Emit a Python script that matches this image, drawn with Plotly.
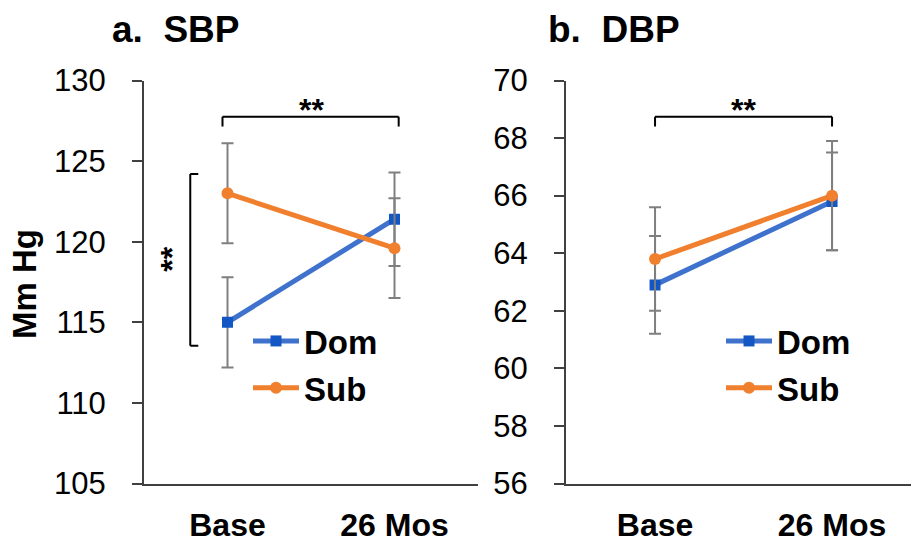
import plotly.graph_objects as go

# ---- data ----
categories = ["Base", "26 Mos"]
sbp_dom = [115.0, 121.4]
sbp_dom_se = [2.8, 2.9]
sbp_sub = [123.0, 119.6]
sbp_sub_se = [3.1, 3.1]
dbp_dom = [62.9, 65.8]
dbp_dom_se = [1.7, 1.7]
dbp_sub = [63.8, 66.0]
dbp_sub_se = [1.8, 1.9]
series_names = ["Dom", "Sub"]
sbp_ticks = [105, 110, 115, 120, 125, 130]
dbp_ticks = [56, 58, 60, 62, 64, 66, 68, 70]

W, H = 911, 543
FONT = "Liberation Sans, Arial, sans-serif"
BLUE_LINE = "#3F72CC"
BLUE_MK = "#1257C4"
ORANGE = "#F07F2E"
ERR = "#7F7F7F"
AX = "#404040"

def px_x(p):
    return p / W

def px_y(p):
    return (H - p) / H

fig = go.Figure()

def add_series(x, y, se, name, xa, ya, leg, grp, line_c, mk_c, symbol, size):
    fig.add_trace(go.Scatter(
        x=x, y=y, name=name, mode="lines+markers",
        xaxis=xa, yaxis=ya, legend=leg, legendgroup=grp,
        line=dict(color=line_c, width=5),
        marker=dict(color=mk_c, symbol=symbol, size=size),
        error_y=dict(type="data", array=se, visible=True, color=ERR,
                     thickness=2, width=6),
    ))

add_series(categories, sbp_dom, sbp_dom_se, series_names[0], "x", "y", "legend", "a_dom", BLUE_LINE, BLUE_MK, "square", 11)
add_series(categories, sbp_sub, sbp_sub_se, series_names[1], "x", "y", "legend", "a_sub", ORANGE, ORANGE, "circle", 12)
add_series(categories, dbp_dom, dbp_dom_se, series_names[0], "x2", "y2", "legend2", "b_dom", BLUE_LINE, BLUE_MK, "square", 11)
add_series(categories, dbp_sub, dbp_sub_se, series_names[1], "x2", "y2", "legend2", "b_sub", ORANGE, ORANGE, "circle", 12)

ydom = [px_y(483.5), px_y(80.5)]
xaxis_common = dict(
    type="category", showline=True, linecolor=AX, linewidth=2,
    ticks="", showgrid=False, zeroline=False, automargin=False,
    tickfont=dict(family=FONT, size=32, color="black", weight="bold"),
    ticklabelstandoff=12,
)
yaxis_common = dict(
    showline=True, linecolor=AX, linewidth=2, ticks="outside",
    ticklen=10, tickwidth=2, tickcolor=AX, showgrid=False, zeroline=False,
    automargin=False,
    tickfont=dict(family=FONT, size=31, color="black"),
    ticklabelstandoff=20,
)

legend_common = dict(
    font=dict(family=FONT, size=33, color="black", weight="bold"),
    bgcolor="rgba(0,0,0,0)", borderwidth=0, itemwidth=46,
    xanchor="left", yanchor="top", tracegroupgap=1, itemclick=False,
)

fig.update_layout(
    width=W, height=H, margin=dict(l=0, r=0, t=0, b=0, autoexpand=False),
    paper_bgcolor="white", plot_bgcolor="white",
    xaxis=dict(domain=[px_x(144), px_x(478)], range=[-0.5, 1.5], anchor="y", **xaxis_common),
    yaxis=dict(domain=ydom, range=[105, 130], tickvals=sbp_ticks, anchor="x", **yaxis_common),
    xaxis2=dict(domain=[px_x(566), 1.0], range=[-0.503, 1.446], anchor="y2", **xaxis_common),
    yaxis2=dict(domain=ydom, range=[56, 70], tickvals=dbp_ticks, anchor="x2", **yaxis_common),
    legend=dict(x=px_x(248), y=px_y(313), **legend_common),
    legend2=dict(x=px_x(721), y=px_y(313), **legend_common),
    showlegend=True,
)

# brackets (significance markers)
def line(x0, y0, x1, y1, xr, yr):
    fig.add_shape(type="line", x0=x0, y0=y0, x1=x1, y1=y1, xref=xr, yref=yr,
                  line=dict(color="black", width=2))

# SBP top bracket
line(-0.03, 127.75, 1.025, 127.75, "x", "y")
line(-0.03, 127.75, -0.03, 127.15, "x", "y")
line(1.025, 127.75, 1.025, 127.15, "x", "y")
# SBP left bracket
line(-0.223, 124.2, -0.223, 113.55, "x", "y")
line(-0.223, 124.2, -0.175, 124.2, "x", "y")
line(-0.223, 113.55, -0.175, 113.55, "x", "y")
# DBP top bracket
line(0.0, 68.74, 1.0, 68.74, "x2", "y2")
line(0.0, 68.74, 0.0, 68.4, "x2", "y2")
line(1.0, 68.74, 1.0, 68.4, "x2", "y2")

star_font = dict(family=FONT, size=32, color="black", weight="bold")
fig.add_annotation(x=0.5, y=127.75, xref="x", yref="y", text="**", showarrow=False,
                   xanchor="center", yanchor="bottom", yshift=-13, font=star_font)
fig.add_annotation(x=0.5, y=68.74, xref="x2", yref="y2", text="**", showarrow=False,
                   xanchor="center", yanchor="bottom", yshift=-13, font=star_font)
fig.add_annotation(x=-0.33, y=118.9, xref="x", yref="y", text="**", showarrow=False,
                   xanchor="center", yanchor="middle", textangle=-90, font=star_font)

# titles
title_font = dict(family=FONT, size=37, color="black", weight="bold")
fig.add_annotation(x=px_x(176), y=px_y(30), xref="paper", yref="paper", text="a.  SBP",
                   showarrow=False, xanchor="center", yanchor="middle", font=title_font)
fig.add_annotation(x=px_x(614), y=px_y(30), xref="paper", yref="paper", text="b.  DBP",
                   showarrow=False, xanchor="center", yanchor="middle", font=title_font)
# y-axis title
fig.add_annotation(x=px_x(24), y=px_y(284), xref="paper", yref="paper", text="Mm Hg",
                   showarrow=False, textangle=-90, xanchor="center", yanchor="middle",
                   font=dict(family=FONT, size=33, color="black", weight="bold"))

fig.write_html("out.html")
